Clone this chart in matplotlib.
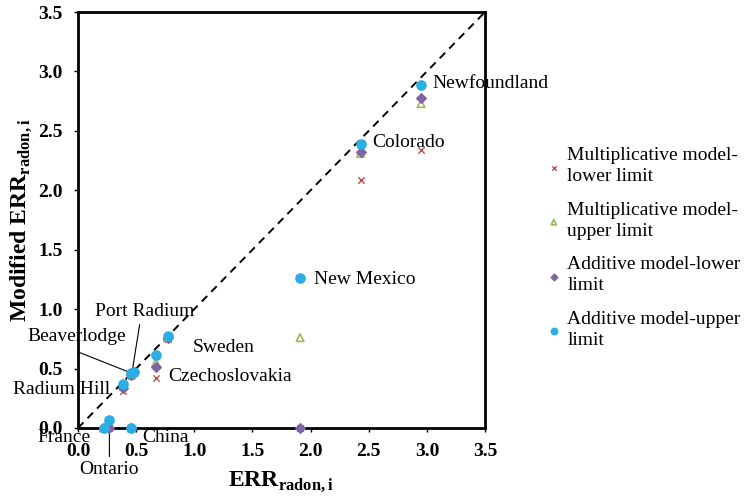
import matplotlib
matplotlib.use("Agg")
import matplotlib.pyplot as plt

plt.rcParams['font.family'] = ['Liberation Serif', 'DejaVu Serif']
plt.rcParams['mathtext.fontset'] = 'custom'
plt.rcParams['mathtext.rm'] = 'Liberation Serif'
plt.rcParams['mathtext.bf'] = 'Liberation Serif:bold'

# ---- data ----
sites = ["Newfoundland", "Colorado", "New Mexico", "Sweden", "Czechoslovakia",
         "Port Radium", "Beaverlodge", "Radium Hill", "Ontario", "France", "China"]
err_radon = [2.95, 2.43, 1.91, 0.77, 0.67, 0.48, 0.46, 0.39, 0.27, 0.22, 0.46]
mult_lower = [2.34, 2.09, 0.00, 0.75, 0.42, 0.46, 0.44, 0.31, 0.00, 0.00, 0.00]
mult_upper = [2.73, 2.31, 0.76, 0.76, 0.55, 0.47, 0.45, 0.35, 0.01, 0.00, 0.00]
add_lower = [2.78, 2.32, 0.00, 0.76, 0.51, 0.47, 0.45, 0.34, 0.00, 0.00, 0.00]
add_upper = [2.89, 2.39, 1.26, 0.77, 0.61, 0.47, 0.46, 0.37, 0.07, 0.00, 0.00]
series_names = ["Multiplicative model-\nlower limit", "Multiplicative model-\nupper limit",
                "Additive model-lower\nlimit", "Additive model-upper\nlimit"]
ticks = [0.0, 0.5, 1.0, 1.5, 2.0, 2.5, 3.0, 3.5]
tick_labels = ["0.0", "0.5", "1.0", "1.5", "2.0", "2.5", "3.0", "3.5"]

fig = plt.figure(figsize=(7.5, 4.96), dpi=100)
ax = fig.add_axes([0.104, 0.1371, 0.5427, 0.8387])

ax.plot([0, 3.5], [0, 3.5], color='black', ls=(0, (4, 3)), lw=1.4, zorder=1)

ax.scatter(err_radon, mult_lower, marker='x', s=22, color='#C0504D', linewidths=1.0,
           label=series_names[0], zorder=3, clip_on=False)
ax.scatter(err_radon, mult_upper, marker='^', s=30, facecolors='none', edgecolors='#9BBB59',
           linewidths=1.2, label=series_names[1], zorder=4, clip_on=False)
ax.scatter(err_radon, add_lower, marker='D', s=24, color='#8064A2', edgecolors='#8064A2',
           label=series_names[2], zorder=5, clip_on=False)
ax.scatter(err_radon, add_upper, marker='o', s=44, color='#2AAEE3', edgecolors='#2AAEE3',
           label=series_names[3], zorder=6, clip_on=False)

ax.set_xlim(0, 3.5)
ax.set_ylim(0, 3.5)
ax.set_xticks(ticks)
ax.set_yticks(ticks)
ax.set_xticklabels(tick_labels, fontsize=14, fontweight='bold')
ax.set_yticklabels(tick_labels, fontsize=14, fontweight='bold')
ax.tick_params(direction='out', length=3, width=1, pad=8)
for sp in ax.spines.values():
    sp.set_linewidth(2.0)

ax.set_xlabel(r'$\mathbf{ERR}_{\mathbf{radon,i}}$', fontsize=17, labelpad=6)
ax.set_ylabel(r'Modified $\mathbf{ERR}_{\mathbf{radon,i}}$', fontsize=17, fontweight='bold', labelpad=4)

fs = 14
# labels
ax.text(3.05, 2.90, "Newfoundland", fontsize=fs, ha='left', va='center', clip_on=False)
ax.text(2.53, 2.40, "Colorado", fontsize=fs, ha='left', va='center')
ax.text(2.03, 1.25, "New Mexico", fontsize=fs, ha='left', va='center')
ax.text(0.99, 0.68, "Sweden", fontsize=fs, ha='left', va='center')
ax.text(0.78, 0.43, "Czechoslovakia", fontsize=fs, ha='left', va='center')
ax.text(0.28, 0.32, "Radium Hill", fontsize=fs, ha='right', va='center', clip_on=False)
ax.text(-0.01, 0.77, "Beaverlodge", fontsize=fs, ha='center', va='center', clip_on=False)
ax.text(0.57, 0.98, "Port Radium", fontsize=fs, ha='center', va='center')
ax.text(-0.12, -0.08, "France", fontsize=fs, ha='center', va='center', clip_on=False)
ax.text(0.75, -0.08, "China", fontsize=fs, ha='center', va='center', clip_on=False)
ax.text(0.27, -0.35, "Ontario", fontsize=fs, ha='center', va='center', clip_on=False)

# leader lines
lp = dict(arrowstyle='-', lw=0.8, color='black', shrinkA=0, shrinkB=0)
ax.annotate('', xy=(0.465, 0.47), xytext=(0.53, 0.87), arrowprops=lp, annotation_clip=False)
ax.annotate('', xy=(0.465, 0.46), xytext=(0.0, 0.64), arrowprops=lp, annotation_clip=False)
ax.annotate('', xy=(0.27, 0.0), xytext=(0.27, -0.24), arrowprops=lp, annotation_clip=False)

leg = fig.legend(loc='center left', bbox_to_anchor=(0.728, 0.5), frameon=False, fontsize=14,
                 handlelength=0.8, handletextpad=0.3, labelspacing=0.85, markerscale=0.7,
                 borderaxespad=0, borderpad=0)
for t in leg.get_texts():
    t.set_linespacing(1.3)

fig.savefig("out.png", dpi=100)
